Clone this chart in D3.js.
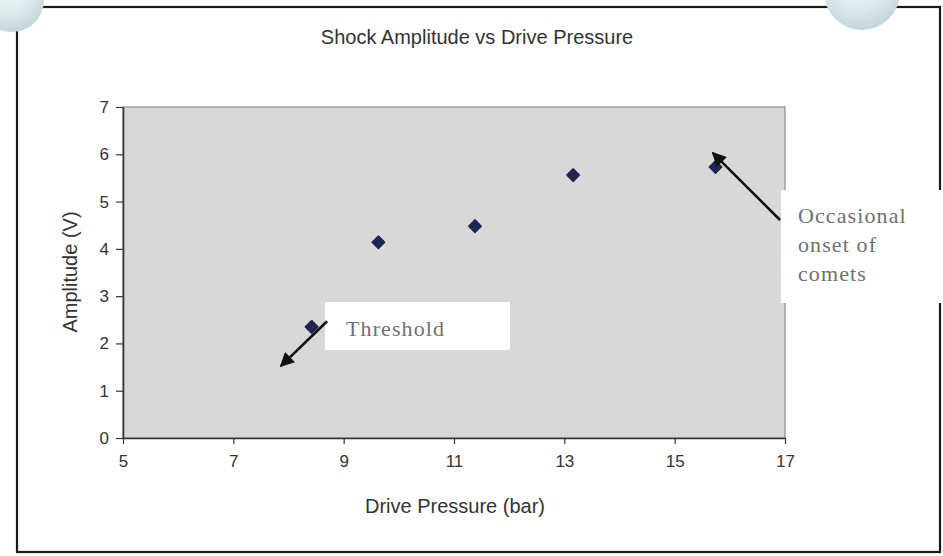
<!DOCTYPE html>
<html>
<head>
<meta charset="utf-8">
<script src="https://cdn.jsdelivr.net/npm/d3@7"></script>
<style>
  html, body { margin: 0; padding: 0; background: #fff; }
  svg { display: block; }
</style>
</head>
<body>
<svg id="chart" width="943" height="556"></svg>
<script>
// Drive pressure (bar) and measured shock amplitude (V)
const pressure  = [8.42, 9.63, 11.38, 13.16, 15.74];
const amplitude = [2.35, 4.14, 4.48, 5.56, 5.73];

const xTicks = [5, 7, 9, 11, 13, 15, 17];
const yTicks = [0, 1, 2, 3, 4, 5, 6, 7];

const titleText = "Shock Amplitude vs Drive Pressure";
const xLabel = "Drive Pressure (bar)";
const yLabel = "Amplitude (V)";
const noteThreshold = "Threshold";
const noteComets = ["Occasional", "onset of", "comets"];

const svg = d3.select("#chart");

const plot = { left: 123, right: 785, top: 107, bottom: 438 };
const x = d3.scaleLinear().domain([5, 17]).range([plot.left, plot.right]);
const y = d3.scaleLinear().domain([0, 7]).range([plot.bottom, plot.top]);

// shaded balls peeking over the frame
const defs = svg.append("defs");
const ball = defs.append("radialGradient").attr("id", "ball")
  .attr("cx", "45%").attr("cy", "35%").attr("r", "65%");
ball.append("stop").attr("offset", "0%").attr("stop-color", "#f4fafb");
ball.append("stop").attr("offset", "60%").attr("stop-color", "#dbe9eb");
ball.append("stop").attr("offset", "100%").attr("stop-color", "#c3d6d9");

defs.append("marker").attr("id", "head")
  .attr("viewBox", "0 0 10 10").attr("refX", 9).attr("refY", 5)
  .attr("markerWidth", 6).attr("markerHeight", 5.5)
  .attr("markerUnits", "strokeWidth")
  .attr("orient", "auto")
  .append("path").attr("d", "M0,0 L10,5 L0,10 Z").attr("fill", "#111");

// outer frame
svg.append("rect").attr("x", 17).attr("y", 7).attr("width", 923).attr("height", 545)
  .attr("fill", "#fff").attr("stroke", "#1a1a1a").attr("stroke-width", 2.2);

svg.append("circle").attr("cx", 12).attr("cy", 0).attr("r", 32).attr("fill", "url(#ball)");
svg.append("circle").attr("cx", 862).attr("cy", -8).attr("r", 38).attr("fill", "url(#ball)");

// plot area
svg.append("rect")
  .attr("x", plot.left).attr("y", plot.top)
  .attr("width", plot.right - plot.left).attr("height", plot.bottom - plot.top)
  .attr("fill", "#d8d8d8").attr("stroke", "#8c8c8c").attr("stroke-width", 1.2);

const sans = "Liberation Sans, Arial, sans-serif";
const serif = "Liberation Serif, Times New Roman, serif";

// title
svg.append("text").attr("x", 477).attr("y", 44).attr("text-anchor", "middle")
  .attr("font-family", sans).attr("font-size", 20)
  .attr("fill", "#333").text(titleText);

// axes
const gx = svg.append("g").attr("transform", `translate(0,${plot.bottom})`)
  .call(d3.axisBottom(x).tickValues(xTicks).tickFormat(d3.format("d"))
    .tickSize(6).tickPadding(11).tickSizeOuter(0));
const gy = svg.append("g").attr("transform", `translate(${plot.left},0)`)
  .call(d3.axisLeft(y).tickValues(yTicks).tickFormat(d3.format("d"))
    .tickSize(7).tickPadding(7).tickSizeOuter(0));
[gx, gy].forEach(g => {
  g.select(".domain").attr("stroke", "#333").attr("stroke-width", 1.6);
  g.selectAll(".tick line").attr("stroke", "#333").attr("stroke-width", 1.2);
  g.selectAll(".tick text").attr("font-family", sans).attr("font-size", 17).attr("fill", "#333");
});

svg.append("text").attr("x", 455).attr("y", 513).attr("text-anchor", "middle")
  .attr("font-family", sans).attr("font-size", 20).attr("fill", "#333").text(xLabel);
svg.append("text").attr("transform", "translate(77,272) rotate(-90)").attr("text-anchor", "middle")
  .attr("font-family", sans).attr("font-size", 20).attr("fill", "#333").text(yLabel);

// data points (diamonds)
const diamond = d3.symbol().type(d3.symbolDiamond2).size(100);
svg.append("g").selectAll("path").data(pressure.map((p, i) => [p, amplitude[i]]))
  .join("path")
  .attr("transform", d => `translate(${x(d[0])},${y(d[1])})`)
  .attr("d", diamond)
  .attr("fill", "#1c2754")
  .attr("stroke", "#1c2754").attr("stroke-width", 1.5).attr("stroke-linejoin", "round");

// annotation: threshold
svg.append("rect").attr("x", 325).attr("y", 302).attr("width", 185).attr("height", 48).attr("fill", "#fff");
svg.append("text").attr("x", 346).attr("y", 336)
  .attr("font-family", serif).attr("font-size", 22).attr("letter-spacing", 1.1)
  .attr("fill", "#707070").text(noteThreshold);
svg.append("line")
  .attr("x1", x(8.70)).attr("y1", y(2.47)).attr("x2", x(7.86)).attr("y2", y(1.52))
  .attr("stroke", "#111").attr("stroke-width", 2.6).attr("marker-end", "url(#head)");

// annotation: comets
svg.append("rect").attr("x", 781).attr("y", 190).attr("width", 162).attr("height", 113).attr("fill", "#fff");
const ct = svg.append("text").attr("font-family", serif)
  .attr("font-size", 22).attr("letter-spacing", 1.1).attr("fill", "#707070");
noteComets.forEach((t, i) => ct.append("tspan").attr("x", 798).attr("y", 223 + i * 29).text(t));
svg.append("line")
  .attr("x1", x(16.91)).attr("y1", y(4.61)).attr("x2", x(15.69)).attr("y2", y(6.03))
  .attr("stroke", "#111").attr("stroke-width", 2.6).attr("marker-end", "url(#head)");
</script>
</body>
</html>
